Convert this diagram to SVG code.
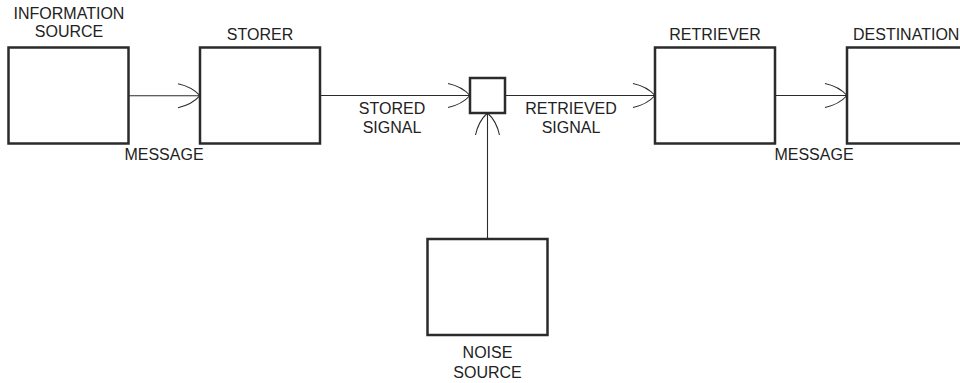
<svg xmlns="http://www.w3.org/2000/svg" width="960" height="383" viewBox="0 0 960 383">
<style>
.box{fill:#fff;stroke:#2b2b2b;stroke-width:2.5}
.ln{fill:none;stroke:#2b2b2b;stroke-width:1.1}
text{font-family:"Liberation Sans",Arial,sans-serif;font-size:16px;fill:#222;text-anchor:middle}
</style>
<defs>
<marker id="ah" markerUnits="userSpaceOnUse" markerWidth="30" markerHeight="30" viewBox="-26 -15 30 30" refX="0" refY="0" orient="auto" overflow="visible">
<path d="M -22 -12 Q -8 -9 0 0 M -22 12 Q -8 9 0 0" fill="none" stroke="#2b2b2b" stroke-width="1.1"/>
</marker>
</defs>
<rect width="960" height="383" fill="#fff"/>
<g id="connectors">
<line class="ln" x1="128" y1="95.7" x2="200" y2="95.7" marker-end="url(#ah)"/>
<line class="ln" x1="320" y1="95.5" x2="470" y2="95.5" marker-end="url(#ah)"/>
<line class="ln" x1="505" y1="95.5" x2="655" y2="95.5" marker-end="url(#ah)"/>
<line class="ln" x1="775" y1="95.5" x2="847" y2="95.5" marker-end="url(#ah)"/>
<line class="ln" x1="487.5" y1="239" x2="487.5" y2="113" marker-end="url(#ah)"/>
<text x="164" y="160.3">MESSAGE</text>
<text x="392" y="114">STORED</text>
<text x="392" y="133.3">SIGNAL</text>
<text x="571" y="114">RETRIEVED</text>
<text x="571" y="133.3">SIGNAL</text>
<text x="814" y="160.3">MESSAGE</text>
</g>
<g id="information-source">
<rect class="box" x="8.5" y="47.5" width="120" height="96"/>
<text x="69" y="19.3">INFORMATION</text>
<text x="69" y="37.3">SOURCE</text>
</g>
<g id="storer">
<rect class="box" x="200" y="47.5" width="120" height="96"/>
<text x="260" y="40">STORER</text>
</g>
<g id="channel">
<rect class="box" x="470" y="78" width="35" height="35"/>
</g>
<g id="retriever">
<rect class="box" x="655" y="47.5" width="120" height="96"/>
<text x="715" y="40">RETRIEVER</text>
</g>
<g id="destination">
<rect class="box" x="847" y="47.5" width="120" height="96"/>
<text x="853" y="39.5" style="text-anchor:start">DESTINATION</text>
</g>
<g id="noise-source">
<rect class="box" x="427.5" y="239" width="120" height="96"/>
<text x="487.5" y="357.7">NOISE</text>
<text x="487.5" y="377.7">SOURCE</text>
</g>
</svg>
